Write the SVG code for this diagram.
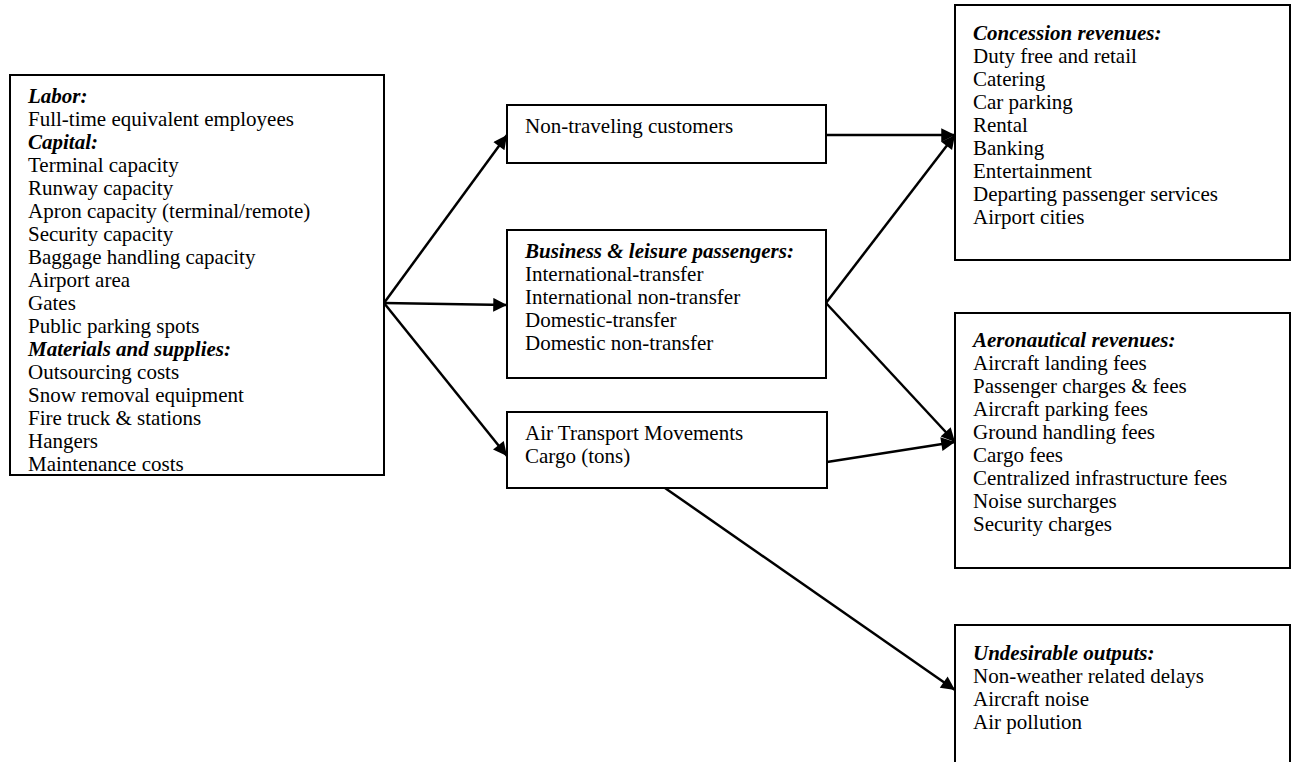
<svg xmlns="http://www.w3.org/2000/svg" width="1293" height="762" viewBox="0 0 1293 762">
<style>
.box{fill:#fff;stroke:#000;stroke-width:2}
.t{font-family:"Liberation Serif","Times New Roman",serif;font-size:21px;fill:#000}
.h{font-weight:bold;font-style:italic}
.c{stroke:#000;stroke-width:2.5;fill:none;marker-end:url(#ah)}
</style>
<defs>
<marker id="ah" viewBox="0 0 10 10" refX="10" refY="5" markerWidth="6.4" markerHeight="5.5" orient="auto" markerUnits="strokeWidth">
<path d="M0,0 L10,5 L0,10 z" fill="#000"/>
</marker>
</defs>
<rect width="1293" height="762" fill="#fff"/>
<g id="inputs">
<rect class="box" x="10" y="75" width="374" height="400"/>
<text class="t" x="28"><tspan class="h" x="28" y="103">Labor:</tspan><tspan x="28" y="126">Full-time equivalent employees</tspan><tspan class="h" x="28" y="149">Capital:</tspan><tspan x="28" y="172">Terminal capacity</tspan><tspan x="28" y="195">Runway capacity</tspan><tspan x="28" y="218">Apron capacity (terminal/remote)</tspan><tspan x="28" y="241">Security capacity</tspan><tspan x="28" y="264">Baggage handling capacity</tspan><tspan x="28" y="287">Airport area</tspan><tspan x="28" y="310">Gates</tspan><tspan x="28" y="333">Public parking spots</tspan><tspan class="h" x="28" y="356">Materials and supplies:</tspan><tspan x="28" y="379">Outsourcing costs</tspan><tspan x="28" y="402">Snow removal equipment</tspan><tspan x="28" y="425">Fire truck &amp; stations</tspan><tspan x="28" y="448">Hangers</tspan><tspan x="28" y="471">Maintenance costs</tspan></text>
</g>
<g id="nontraveling">
<rect class="box" x="507" y="105" width="319" height="58"/>
<text class="t" x="525" y="133">Non-traveling customers</text>
</g>
<g id="passengers">
<rect class="box" x="507" y="230" width="319" height="148"/>
<text class="t"><tspan class="h" x="525" y="258">Business &amp; leisure passengers:</tspan><tspan x="525" y="281">International-transfer</tspan><tspan x="525" y="304">International non-transfer</tspan><tspan x="525" y="327">Domestic-transfer</tspan><tspan x="525" y="350">Domestic non-transfer</tspan></text>
</g>
<g id="movements">
<rect class="box" x="507" y="412" width="320" height="76"/>
<text class="t"><tspan x="525" y="440">Air Transport Movements</tspan><tspan x="525" y="463">Cargo (tons)</tspan></text>
</g>
<g id="concession">
<rect class="box" x="955" y="5" width="335" height="255"/>
<text class="t"><tspan class="h" x="973" y="40">Concession revenues:</tspan><tspan x="973" y="63">Duty free and retail</tspan><tspan x="973" y="86">Catering</tspan><tspan x="973" y="109">Car parking</tspan><tspan x="973" y="132">Rental</tspan><tspan x="973" y="155">Banking</tspan><tspan x="973" y="178">Entertainment</tspan><tspan x="973" y="201">Departing passenger services</tspan><tspan x="973" y="224">Airport cities</tspan></text>
</g>
<g id="aeronautical">
<rect class="box" x="955" y="313" width="335" height="255"/>
<text class="t"><tspan class="h" x="973" y="347">Aeronautical revenues:</tspan><tspan x="973" y="370">Aircraft landing fees</tspan><tspan x="973" y="393">Passenger charges &amp; fees</tspan><tspan x="973" y="416">Aircraft parking fees</tspan><tspan x="973" y="439">Ground handling fees</tspan><tspan x="973" y="462">Cargo fees</tspan><tspan x="973" y="485">Centralized infrastructure fees</tspan><tspan x="973" y="508">Noise surcharges</tspan><tspan x="973" y="531">Security charges</tspan></text>
</g>
<g id="undesirable">
<rect class="box" x="955" y="625" width="335" height="145"/>
<text class="t"><tspan class="h" x="973" y="660">Undesirable outputs:</tspan><tspan x="973" y="683">Non-weather related delays</tspan><tspan x="973" y="706">Aircraft noise</tspan><tspan x="973" y="729">Air pollution</tspan></text>
</g>
<g id="connectors">
<line class="c" x1="384" y1="303" x2="507" y2="135"/>
<line class="c" x1="384" y1="303" x2="507" y2="305"/>
<line class="c" x1="384" y1="303" x2="507" y2="456"/>
<line class="c" x1="826" y1="135" x2="955" y2="135"/>
<line class="c" x1="826" y1="303" x2="955" y2="135"/>
<line class="c" x1="826" y1="303" x2="955" y2="442"/>
<line class="c" x1="827" y1="462" x2="955" y2="442"/>
<line class="c" x1="665" y1="488" x2="955" y2="690"/>
</g>
</svg>
